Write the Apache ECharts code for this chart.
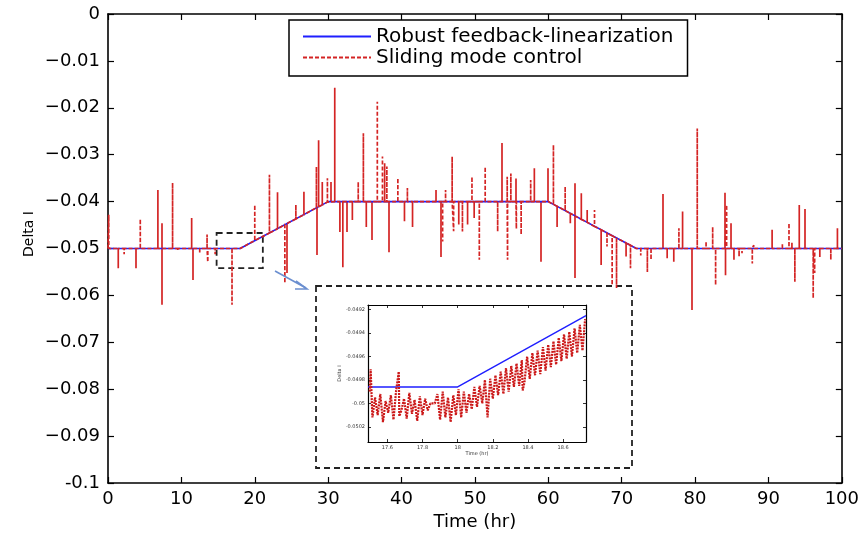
<!DOCTYPE html>
<html>
<head>
<meta charset="utf-8">
<title>Delta I</title>
<script src="https://cdn.jsdelivr.net/npm/echarts@6/dist/echarts.min.js"></script>
<style>
  html, body { margin: 0; padding: 0; background: #fff; }
  #chart { width: 862px; height: 536px; }
</style>
</head>
<body>
<div id="chart"></div>
<script>
// main curve: robust feedback-linearization (piecewise)
const blueX = [0, 18, 30, 60, 72, 100];
const blueY = [-0.05, -0.05, -0.04, -0.04, -0.05, -0.05];

// sliding mode control: dashed spikes (x, level of the curve, tip)
const dashX = [0.1, 1.4, 2.2, 4.4, 6.8, 8.8, 9.5, 11.4, 12.5, 13.5, 13.6, 14.6, 16.9,
  20.0, 22.0, 23.1, 24.1, 25.6, 26.7, 28.4, 28.7, 29.2, 29.9,
  30.9, 31.6, 32.0, 33.3, 34.1, 34.8, 35.2, 36.7, 37.4, 37.7, 38.0, 39.5, 40.4, 40.8, 41.5,
  44.7, 45.6, 46.0, 46.9, 47.1, 47.8, 48.3, 49.0, 49.6, 49.9, 50.6, 51.4, 53.1, 54.4, 54.45,
  54.9, 55.6, 55.65, 56.3, 57.6, 58.1,
  60.7, 61.2, 62.3, 63.0, 64.5, 65.3, 66.3, 67.2, 68.0, 68.7, 69.3, 70.6, 71.2,
  72.6, 73.5, 74.0, 76.2, 77.1, 77.8, 78.3, 80.3, 81.5, 82.4, 82.8, 84.15, 84.3, 84.9,
  85.3, 86.0, 86.4, 87.8, 88.0, 90.5, 91.9, 92.8, 93.2, 93.6, 94.2, 96.1, 96.3, 97.0, 98.5, 99.4];
const dashBase = [-0.05, -0.05, -0.05, -0.05, -0.05, -0.05, -0.05, -0.05, -0.05, -0.05, -0.05, -0.05, -0.05,
  -0.0483, -0.0467, -0.0458, -0.0449, -0.0437, -0.0428, -0.0413, -0.0411, -0.0407, -0.0401,
  -0.04, -0.04, -0.04, -0.04, -0.04, -0.04, -0.04, -0.04, -0.04, -0.04, -0.04, -0.04, -0.04, -0.04, -0.04,
  -0.04, -0.04, -0.04, -0.04, -0.04, -0.04, -0.04, -0.04, -0.04, -0.04, -0.04, -0.04, -0.04, -0.04, -0.04,
  -0.04, -0.04, -0.04, -0.04, -0.04, -0.04,
  -0.0406, -0.041, -0.0419, -0.0425, -0.0438, -0.0444, -0.0453, -0.046, -0.0467, -0.0473, -0.0478, -0.0488, -0.0493,
  -0.05, -0.05, -0.05, -0.05, -0.05, -0.05, -0.05, -0.05, -0.05, -0.05, -0.05, -0.05, -0.05, -0.05,
  -0.05, -0.05, -0.05, -0.05, -0.05, -0.05, -0.05, -0.05, -0.05, -0.05, -0.05, -0.05, -0.05, -0.05, -0.05, -0.05];
const dashPeak = [-0.0428, -0.0542, -0.0512, -0.0437, -0.0375, -0.036, -0.0505, -0.0435, -0.051, -0.047, -0.0529, -0.0512, -0.062,
  -0.0407, -0.0343, -0.038, -0.0574, -0.0407, -0.0379, -0.0326, -0.0269, -0.0358, -0.035,
  -0.0157, -0.0465, -0.054, -0.0439, -0.0358, -0.0254, -0.0454, -0.0187, -0.0304, -0.0318, -0.0325, -0.035, -0.0442, -0.0371, -0.0454,
  -0.0375, -0.0485, -0.0375, -0.0304, -0.0463, -0.0449, -0.0464, -0.0449, -0.0347, -0.0435, -0.0524, -0.0326, -0.0464, -0.0347, -0.0524,
  -0.034, -0.0351, -0.0458, -0.047, -0.0354, -0.0329,
  -0.0279, -0.0454, -0.0368, -0.0446, -0.0382, -0.0418, -0.0418, -0.0535, -0.0496, -0.0578, -0.0584, -0.0517, -0.0542,
  -0.0515, -0.055, -0.0524, -0.0521, -0.0528, -0.0457, -0.0421, -0.0244, -0.0485, -0.0454, -0.0578, -0.0557, -0.0407, -0.0446,
  -0.0524, -0.0517, -0.051, -0.0532, -0.0493, -0.046, -0.049, -0.0446, -0.0488, -0.0571, -0.0407, -0.0606, -0.0552, -0.0518, -0.0524, -0.0457];

// spikes that look solid (dense overdrawn dashes)
const solidX = [3.8, 7.3, 7.35, 11.6, 24.4, 28.45, 30.4, 32.5, 36.0, 38.2, 45.3, 53.7, 59.0, 59.9, 63.6, 63.65, 75.6, 79.6, 84.1, 95.0];
const solidBase = [-0.05, -0.05, -0.05, -0.05, -0.0447, -0.0413, -0.04, -0.04, -0.04, -0.04, -0.04, -0.04, -0.04, -0.04, -0.043, -0.043, -0.05, -0.05, -0.05, -0.05];
const solidPeak = [-0.0542, -0.0446, -0.062, -0.0567, -0.0552, -0.0514, -0.0358, -0.0465, -0.0482, -0.0508, -0.0518, -0.0275, -0.0528, -0.0329, -0.0361, -0.0563, -0.0384, -0.0631, -0.0381, -0.0416];

// zoomed region marked on the main axes
const zoomBoxX = [14.8, 21.1];
const zoomBoxY = [-0.0467, -0.0542];

// inset (zoom of the start of the ramp)
const insetBlue = [[17.49, -0.04986], [18, -0.04986], [18.73, -0.04925]];
const insetRed = [[17.50, -0.04990], [17.505, -0.04971], [17.515, -0.05012], [17.53, -0.04995], [17.545, -0.05010],
  [17.56, -0.04992], [17.575, -0.05016], [17.59, -0.04998], [17.605, -0.05008], [17.62, -0.04993], [17.635, -0.05014],
  [17.65, -0.04989], [17.665, -0.04973], [17.668, -0.05011], [17.68, -0.05006], [17.695, -0.04996], [17.71, -0.05013],
  [17.725, -0.04991], [17.74, -0.05009], [17.755, -0.04997], [17.77, -0.05015], [17.785, -0.04994], [17.80, -0.05010],
  [17.815, -0.04996], [17.83, -0.05006], [17.845, -0.05000], [17.87, -0.05000], [17.885, -0.04992], [17.90, -0.05014],
  [17.915, -0.04990], [17.93, -0.05012], [17.945, -0.04995], [17.96, -0.05016], [17.975, -0.04993], [17.99, -0.05010],
  [18.005, -0.04988], [18.02, -0.05012], [18.035, -0.04990], [18.05, -0.05008], [18.065, -0.04992], [18.08, -0.05005],
  [18.095, -0.04986], [18.11, -0.05003], [18.125, -0.04985], [18.14, -0.05000], [18.155, -0.04980], [18.17, -0.05012],
  [18.185, -0.04979], [18.20, -0.04996], [18.215, -0.04976], [18.23, -0.04993], [18.245, -0.04973], [18.26, -0.04992],
  [18.275, -0.04970], [18.29, -0.04990], [18.305, -0.04968], [18.32, -0.04986], [18.335, -0.04966], [18.35, -0.04985],
  [18.365, -0.04963], [18.37, -0.04989], [18.38, -0.04982], [18.395, -0.04960], [18.41, -0.04979], [18.425, -0.04957],
  [18.44, -0.04976], [18.455, -0.04955], [18.47, -0.04975], [18.485, -0.04952], [18.50, -0.04972], [18.515, -0.04950],
  [18.53, -0.04969], [18.545, -0.04947], [18.56, -0.04967], [18.575, -0.04944], [18.59, -0.04964], [18.605, -0.04941],
  [18.62, -0.04962], [18.635, -0.04939], [18.65, -0.04960], [18.665, -0.04936], [18.68, -0.04957], [18.695, -0.04933],
  [18.71, -0.04955], [18.725, -0.04928]];
const insetXTicks = [17.6, 17.8, 18, 18.2, 18.4, 18.6];
const insetYTicks = [-0.0502, -0.05, -0.0498, -0.0496, -0.0494, -0.0492];

const BLUE = "#1f1fff";
const RED = "#d42424";
const FONT = "DejaVu Sans";

// red path: curve corners plus every dashed spike, ordered by time
const redPieces = blueX.map((x, i) => ({ x, pts: [[x, blueY[i]]] }));
dashX.forEach((x, i) => {
  redPieces.push({ x, pts: [[x, dashBase[i]], [x, dashPeak[i]], [x, dashBase[i]]] });
});
redPieces.sort((a, b) => a.x - b.x);
const redPath = [];
redPieces.forEach((p) => redPath.push(...p.pts));

const solidLines = solidX.map((x, i) => ({ coords: [[x, solidBase[i]], [x, solidPeak[i]]] }));

const mainTick = { show: true, inside: true, length: 6, lineStyle: { color: "#000", width: 1.2 } };
const mainLine = { show: true, onZero: false, lineStyle: { color: "#000", width: 1.6 } };
const insetTick = { show: true, inside: true, length: 3, lineStyle: { color: "#000", width: 0.8 } };
const insetLine = { show: true, onZero: false, lineStyle: { color: "#000", width: 1.2 } };

function yLabel(v) {
  if (Math.abs(v) < 1e-9) return "0";
  if (Math.abs(v + 0.1) < 1e-9) return "-0.1";
  return "\u2212" + Math.abs(v).toFixed(2);
}

const chart = echarts.init(document.getElementById("chart"));
chart.setOption({
  animation: false,
  backgroundColor: "#fff",
  textStyle: { fontFamily: FONT },
  grid: [
    { left: 108, top: 14, width: 735, height: 469 },
    { left: 368, top: 305, width: 218, height: 137 },
  ],
  legend: {
    data: ["Robust feedback-linearization", "Sliding mode control"],
    orient: "vertical",
    left: 289,
    top: 20,
    padding: [6, 14, 8, 13],
    itemWidth: 68,
    itemHeight: 14,
    itemGap: 0,
    borderColor: "#000",
    borderWidth: 1.5,
    backgroundColor: "#fff",
    itemStyle: { opacity: 0 },
    textStyle: { fontFamily: FONT, fontSize: 20, lineHeight: 21, color: "#000" },
  },
  xAxis: [
    {
      type: "value", gridIndex: 0, min: 0, max: 100, interval: 10,
      axisLine: mainLine, axisTick: mainTick, splitLine: { show: false },
      axisLabel: { fontSize: 18, color: "#000", margin: 7 },
      name: "Time (hr)", nameLocation: "middle", nameGap: 24,
      nameTextStyle: { fontSize: 18, color: "#000" },
    },
    {
      type: "value", gridIndex: 0, position: "top", min: 0, max: 100, interval: 10,
      axisLine: mainLine, axisTick: mainTick, axisLabel: { show: false }, splitLine: { show: false },
    },
    {
      type: "value", gridIndex: 1, min: 17.49, max: 18.73,
      axisLine: insetLine, splitLine: { show: false },
      axisTick: Object.assign({ customValues: insetXTicks }, insetTick),
      axisLabel: { customValues: insetXTicks, fontSize: 5, color: "#333", margin: 3 },
      name: "Time (hr)", nameLocation: "middle", nameGap: 9,
      nameTextStyle: { fontSize: 5, color: "#333" },
    },
    {
      type: "value", gridIndex: 1, position: "top", min: 17.49, max: 18.73,
      axisLine: insetLine, splitLine: { show: false },
      axisTick: Object.assign({ customValues: insetXTicks }, insetTick),
      axisLabel: { show: false },
    },
  ],
  yAxis: [
    {
      type: "value", gridIndex: 0, min: -0.1, max: 0, interval: 0.01,
      axisLine: mainLine, axisTick: mainTick, splitLine: { show: false },
      axisLabel: { fontSize: 18, color: "#000", margin: 8, formatter: yLabel },
    },
    {
      type: "value", gridIndex: 0, position: "right", min: -0.1, max: 0, interval: 0.01,
      axisLine: mainLine, axisTick: mainTick, axisLabel: { show: false }, splitLine: { show: false },
    },
    {
      type: "value", gridIndex: 1, min: -0.05033, max: -0.04916,
      axisLine: insetLine, splitLine: { show: false },
      axisTick: Object.assign({ customValues: insetYTicks }, insetTick),
      axisLabel: {
        customValues: insetYTicks, fontSize: 5, color: "#333", margin: 3,
        formatter: (v) => String(Number(v.toFixed(4))),
      },
      name: "Delta I", nameLocation: "middle", nameGap: 22, nameRotate: 90,
      nameTextStyle: { fontSize: 5, color: "#333" },
    },
    {
      type: "value", gridIndex: 1, position: "right", min: -0.05033, max: -0.04916,
      axisLine: insetLine, splitLine: { show: false },
      axisTick: Object.assign({ customValues: insetYTicks }, insetTick),
      axisLabel: { show: false },
    },
  ],
  graphic: [
    {
      type: "text", left: 22, top: 211, rotation: Math.PI / 2, z: 5,
      style: { text: "Delta I", font: "14px DejaVu Sans", fill: "#000", align: "center", verticalAlign: "middle" },
    },
    {
      type: "rect", z: 1,
      shape: { x: 316, y: 286, width: 316, height: 182 },
      style: { fill: "none", stroke: "#222", lineWidth: 1.8, lineDash: [6, 4] },
    },
    {
      type: "line", z: 5,
      shape: { x1: 275, y1: 271, x2: 306, y2: 288 },
      style: { stroke: "#6b8fd0", lineWidth: 1.6 },
    },
    {
      type: "polyline", z: 5,
      shape: { points: [[296, 281], [307, 289], [295, 289]] },
      style: { stroke: "#6b8fd0", lineWidth: 1.6, fill: "none" },
    },
  ],
  series: [
    {
      name: "Robust feedback-linearization",
      type: "line", xAxisIndex: 0, yAxisIndex: 0,
      data: blueX.map((x, i) => [x, blueY[i]]),
      symbol: "none", lineStyle: { color: BLUE, width: 1.6 }, itemStyle: { color: BLUE },
      markArea: {
        silent: true,
        itemStyle: { color: "rgba(0,0,0,0)", borderColor: "#222", borderWidth: 1.8, borderType: [6, 4] },
        data: [[{ coord: [zoomBoxX[0], zoomBoxY[0]] }, { coord: [zoomBoxX[1], zoomBoxY[1]] }]],
      },
    },
    {
      name: "Sliding mode control",
      type: "line", xAxisIndex: 0, yAxisIndex: 0,
      data: redPath,
      symbol: "none", lineStyle: { color: RED, width: 1.7, type: [4, 2] }, itemStyle: { color: RED },
      z: 3,
    },
    {
      name: "Sliding mode control",
      type: "lines", coordinateSystem: "cartesian2d", xAxisIndex: 0, yAxisIndex: 0,
      data: solidLines,
      lineStyle: { color: RED, width: 1.7, opacity: 1, curveness: 0 },
      z: 3,
    },
    {
      name: "insetBlue",
      type: "line", xAxisIndex: 2, yAxisIndex: 2,
      data: insetBlue,
      symbol: "none", lineStyle: { color: BLUE, width: 1.4 }, z: 4,
    },
    {
      name: "insetRed",
      type: "line", xAxisIndex: 2, yAxisIndex: 2,
      data: insetRed,
      symbol: "none", lineStyle: { color: "#cc1a1a", width: 2.2, type: [2, 1] }, z: 5,
    },
  ],
});
</script>
</body>
</html>
